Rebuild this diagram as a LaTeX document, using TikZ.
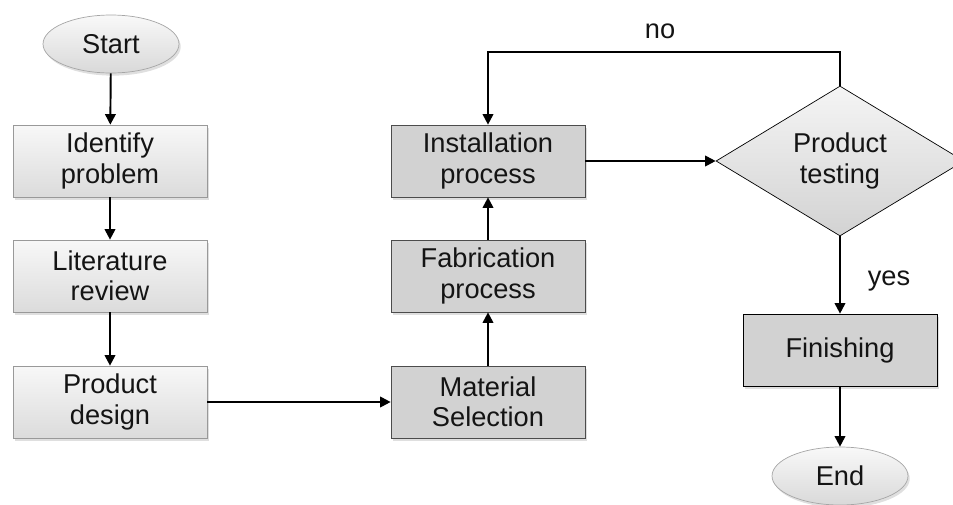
\documentclass[tikz,border=0pt]{standalone}
\usepackage{fontspec}
\setmainfont{Liberation Sans}
\usepackage{xcolor}
\usetikzlibrary{shapes.geometric,arrows.meta,shadows}

\definecolor{boxgray}{HTML}{D2D2D2}
\definecolor{txtgray}{HTML}{141414}

\begin{document}
\begin{tikzpicture}[x=0.02cm,y=-0.02cm,
                    font=\fontsize{15.5}{17.2}\selectfont,text=txtgray,
                    softshadow/.style={drop shadow={opacity=0.25,shadow xshift=1pt,shadow yshift=-1.5pt}},
                    terminal/.style={ellipse,draw=gray!70,top color=gray!5,bottom color=gray!30,
                                     minimum width=2.72cm,minimum height=1.16cm,inner sep=0pt,softshadow},
                    lightbox/.style={rectangle,draw=gray!80,top color=gray!6,bottom color=gray!28,
                                     minimum width=3.88cm,minimum height=1.44cm,align=center,softshadow},
                    darkbox/.style={rectangle,draw=black!70,fill=boxgray,
                                    minimum width=3.88cm,minimum height=1.44cm,align=center,softshadow},
                    decision/.style={diamond,draw=black,top color=gray!8,bottom color=gray!35,
                                     minimum width=4.96cm,minimum height=3cm,inner sep=0pt,align=center},
                    flow/.style={line width=1.1pt,-{Triangle[width=6pt,length=6pt]}}]
    \useasboundingbox (0,0) rectangle (953,504);

    % left column
    \node[terminal] (start) at (111,44) {Start};
    \node[lightbox] (identify) at (110,161) {Identify\\problem};
    \node[lightbox] (review) at (110,276) {Literature\\review};
    \node[lightbox] (design) at (110,402) {Product\\design};

    % middle column
    \node[darkbox] (material) at (488,402) {Material\\Selection};
    \node[darkbox] (fabric) at (488,276) {Fabrication\\process};
    \node[darkbox] (install) at (488,161) {Installation\\process};

    % right column
    \node[decision] (test) at (840,161) {Product\\testing};
    \node[darkbox,draw=black] (finish) at (840,350) {Finishing};
    \node[terminal] (end) at (840,476) {End};
    \coordinate (loop) at (840,52);

    \draw[flow] (start) -- (identify);
    \draw[flow] (identify) -- (review);
    \draw[flow] (review) -- (design);
    \draw[flow] (design) -- (material);
    \draw[flow] (material) -- (fabric);
    \draw[flow] (fabric) -- (install);
    \draw[flow] (install) -- (test.west);
    \draw[flow] (test.north) -- (loop) -| (install.north);
    \draw[flow] (test.south) -- (finish);
    \draw[flow] (finish) -- (end);

    \node (no) at (660,31) {no};
    \node (yes) at (889,281) {yes};
\end{tikzpicture}
\end{document}
